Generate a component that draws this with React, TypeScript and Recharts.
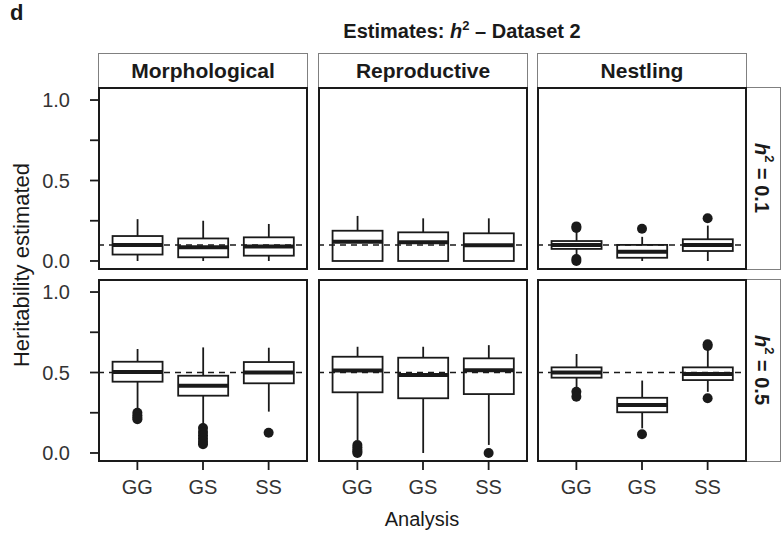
import React from "react"
import { ComposedChart, Bar, Scatter, XAxis, YAxis, ReferenceLine } from "recharts"

const categories = ["GG", "GS", "SS"]
const traitGroups = ["Morphological", "Reproductive", "Nestling"]
const trueH2 = [0.1, 0.5]
const yTicks = [0, 0.25, 0.5, 0.75, 1]

// box stats per analysis: [min, q1, median, q3, max]
const morph01 = [[0, 0.04, 0.1, 0.155, 0.26], [0, 0.023, 0.085, 0.14, 0.25], [0, 0.033, 0.09, 0.147, 0.23]]
const repro01 = [[0, 0, 0.12, 0.188, 0.28], [0, 0, 0.117, 0.178, 0.265], [0, 0, 0.097, 0.172, 0.265]]
const nest01 = [[0.03, 0.075, 0.1, 0.124, 0.18], [0, 0.02, 0.058, 0.1, 0.15], [0, 0.062, 0.1, 0.135, 0.22]]
const morph05 = [[0.27, 0.443, 0.503, 0.567, 0.646], [0.17, 0.356, 0.418, 0.48, 0.656], [0.257, 0.433, 0.5, 0.565, 0.654]]
const repro05 = [[0.08, 0.377, 0.512, 0.598, 0.66], [0, 0.34, 0.485, 0.592, 0.66], [0.05, 0.366, 0.514, 0.588, 0.67]]
const nest05 = [[0.4, 0.468, 0.5, 0.532, 0.615], [0.153, 0.253, 0.298, 0.343, 0.45], [0.38, 0.453, 0.49, 0.532, 0.64]]

// outliers per analysis
const morphOut01 = [[], [], []]
const reproOut01 = [[], [], []]
const nestOut01 = [[0.215, 0.205, 0.012, 0.0], [0.2], [0.265]]
const morphOut05 = [[0.25, 0.235, 0.22, 0.21], [0.155, 0.13, 0.11, 0.09, 0.07, 0.055], [0.126]]
const reproOut05 = [[0.05, 0.035, 0.02, 0.01, 0], [], [0]]
const nestOut05 = [[0.38, 0.35], [0.116], [0.665, 0.675, 0.34]]

const boxStats = [[morph01, repro01, nest01], [morph05, repro05, nest05]]
const outlierVals = [[morphOut01, reproOut01, nestOut01], [morphOut05, reproOut05, nestOut05]]

const INK = "#1a1a1a"
const FONT = "'Liberation Sans', Arial, sans-serif"
const PANEL_LEFT = [98, 318, 537]
const PANEL_TOP = [87, 279]
const PANEL_W = 210
const PANEL_H = 183
const AXIS_W = 70
const AXIS_H = 48
const Y_DOMAIN = [-0.056, 1.081]

function BoxShape(props: any) {
  const { x, y, width, height } = props
  const d = props.payload ?? props
  const top = Math.min(y, y + height)
  const bottom = Math.max(y, y + height)
  const span = d.max - d.min
  const py = (v: number) => (span === 0 ? bottom : bottom - ((v - d.min) / span) * (bottom - top))
  const cx = x + width / 2
  return (
    <g>
      <line x1={cx} x2={cx} y1={py(d.max)} y2={py(d.q3)} stroke={INK} strokeWidth={1.8} />
      <line x1={cx} x2={cx} y1={py(d.q1)} y2={py(d.min)} stroke={INK} strokeWidth={1.8} />
      <rect x={x} y={py(d.q3)} width={width} height={py(d.q1) - py(d.q3)} fill="#fff" stroke={INK} strokeWidth={1.8} />
      <line x1={x} x2={x + width} y1={py(d.median)} y2={py(d.median)} stroke={INK} strokeWidth={4} />
    </g>
  )
}

function OutlierDot(props: any) {
  return <circle cx={props.cx} cy={props.cy} r={5} fill={INK} />
}

function Panel({ row, col }: { row: number; col: number }) {
  const boxes = boxStats[row][col].map((s, i) => ({
    x: i + 1,
    min: s[0],
    q1: s[1],
    median: s[2],
    q3: s[3],
    max: s[4],
  }))
  const points = outlierVals[row][col].flatMap((vals, i) => vals.map((v) => ({ x: i + 1, y: v })))
  const showX = row === 1
  const showY = col === 0
  return (
    <div style={{ position: "absolute", left: PANEL_LEFT[col] - AXIS_W, top: PANEL_TOP[row] }}>
      <ComposedChart
        width={PANEL_W + AXIS_W}
        height={PANEL_H + AXIS_H}
        data={boxes}
        margin={{ top: 0, right: 0, left: showY ? 0 : AXIS_W, bottom: showX ? 0 : AXIS_H }}
      >
        <XAxis
          type="number"
          dataKey="x"
          domain={[0.4, 3.6]}
          ticks={[1, 2, 3]}
          interval={0}
          allowDataOverflow
          hide={!showX}
          height={AXIS_H}
          axisLine={false}
          tickSize={8}
          tickMargin={10}
          tickLine={{ stroke: INK, strokeWidth: 1.8 }}
          tick={{ fill: "#333", fontSize: 20, fontFamily: FONT }}
          tickFormatter={(v: number) => categories[v - 1]}
        />
        <YAxis
          type="number"
          domain={Y_DOMAIN}
          ticks={yTicks}
          interval={0}
          allowDataOverflow
          hide={!showY}
          width={AXIS_W}
          axisLine={false}
          tickSize={8}
          tickMargin={20}
          tickLine={{ stroke: INK, strokeWidth: 1.8 }}
          tick={{ fill: "#333", fontSize: 20, fontFamily: FONT }}
          tickFormatter={(v: number) => ((v * 2) % 1 === 0 ? v.toFixed(1) : "")}
        />
        <Bar dataKey={(d: any) => [d.min, d.max]} barSize={50} shape={BoxShape} isAnimationActive={false} />
        {points.length > 0 && <Scatter data={points} dataKey="y" shape={OutlierDot} isAnimationActive={false} />}
        <ReferenceLine y={trueH2[row]} stroke={INK} strokeWidth={1.5} strokeDasharray="6 5" />
      </ComposedChart>
      <div
        style={{
          position: "absolute",
          left: AXIS_W,
          top: 0,
          width: PANEL_W,
          height: PANEL_H,
          border: `2px solid ${INK}`,
          boxSizing: "border-box",
        }}
      />
    </div>
  )
}

export default function App() {
  const text = { position: "absolute" as const, fontFamily: FONT, color: INK }
  return (
    <div style={{ position: "absolute", left: 0, top: 0, width: 782, height: 536, background: "#fff", fontFamily: FONT }}>
      <div style={{ ...text, left: 10, top: 0, fontSize: 22, fontWeight: "bold" }}>d</div>
      <div style={{ ...text, left: 262, width: 400, top: 18, textAlign: "center", fontSize: 20, fontWeight: "bold" }}>
        Estimates: <i>h</i>
        <sup style={{ fontSize: 13 }}>2</sup> – Dataset 2
      </div>
      {traitGroups.map((g, c) => (
        <div
          key={g}
          style={{
            ...text,
            left: PANEL_LEFT[c],
            top: 53,
            width: PANEL_W,
            height: 35,
            border: "1px solid #808080",
            boxSizing: "border-box",
            display: "flex",
            alignItems: "center",
            justifyContent: "center",
            fontSize: 21,
            fontWeight: "bold",
            background: "#fff",
          }}
        >
          {g}
        </div>
      ))}
      {trueH2.map((h, r) => (
        <div
          key={h}
          style={{
            ...text,
            left: 746,
            top: PANEL_TOP[r],
            width: 35,
            height: PANEL_H,
            border: "1px solid #808080",
            boxSizing: "border-box",
            display: "flex",
            alignItems: "center",
            justifyContent: "center",
            fontSize: 20,
            fontWeight: "bold",
            writingMode: "vertical-rl",
          }}
        >
          <span>
            <i>h</i>
            <sup style={{ fontSize: 13 }}>2</sup> = {h}
          </span>
        </div>
      ))}
      {[0, 1].map((r) => [0, 1, 2].map((c) => <Panel key={`${r}-${c}`} row={r} col={c} />))}
      <div
        style={{
          ...text,
          left: 22 - 150,
          top: 266 - 14,
          width: 300,
          textAlign: "center",
          fontSize: 22,
          color: "#1a1a1a",
          transform: "rotate(-90deg)",
        }}
      >
        Heritability estimated
      </div>
      <div style={{ ...text, left: 322, width: 200, top: 508, textAlign: "center", fontSize: 20 }}>Analysis</div>
    </div>
  )
}
